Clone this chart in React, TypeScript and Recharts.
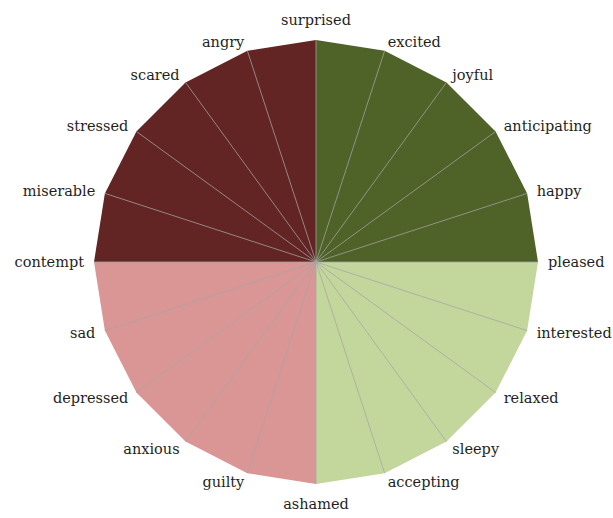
import React from 'react';
import { RadarChart, Radar, PolarGrid, PolarAngleAxis, PolarRadiusAxis } from 'recharts';

const emotions = [
  'surprised', 'excited', 'joyful', 'anticipating', 'happy', 'pleased',
  'interested', 'relaxed', 'sleepy', 'accepting', 'ashamed',
  'guilty', 'anxious', 'depressed', 'sad', 'contempt',
  'miserable', 'stressed', 'scared', 'angry',
];

// every spoke reaches the outer edge
const values = [1, 1, 1, 1, 1, 1, 1, 1, 1, 1, 1, 1, 1, 1, 1, 1, 1, 1, 1, 1];

// quadrant spans by emotion index (start, end inclusive, wrapping)
const quadrants = [
  { key: 'q1', from: 0, to: 5, color: '#4f6228' },
  { key: 'q2', from: 5, to: 10, color: '#c3d69b' },
  { key: 'q3', from: 10, to: 15, color: '#d99694' },
  { key: 'q4', from: 15, to: 20, color: '#632523' },
];

const CX = 316;
const CY = 262;
const R = 222;

const data = emotions.map((name, i) => {
  const row: any = { name };
  quadrants.forEach((q) => {
    const inside = (i >= q.from && i <= q.to) || (q.to >= emotions.length && i === q.to - emotions.length);
    row[q.key] = inside ? values[i] : 0;
  });
  return row;
});

const EmotionTick = (props: any) => {
  const { x, y, payload } = props;
  const dx = x - CX;
  const dy = y - CY;
  const len = Math.sqrt(dx * dx + dy * dy) || 1;
  const nx = dx / len;
  const ny = dy / len;
  let anchor = 'middle';
  let tx = x + nx * 2;
  let ty = y + ny * 1;
  if (nx > 0.1) anchor = 'start';
  else if (nx < -0.1) anchor = 'end';
  else {
    tx = x;
    ty = y + ny * 12;
  }
  return (
    <text x={tx} y={ty} dy="0.35em" textAnchor={anchor} fill="#1f1f1f"
      style={{ fontFamily: '"DejaVu Serif", serif', fontSize: 14.5 }}>
      {payload.value}
    </text>
  );
};

export default function App() {
  return (
    <div style={{ position: 'absolute', left: 0, top: 0, background: '#fff' }}>
      <RadarChart width={613} height={518} data={data} cx={CX} cy={CY} outerRadius={R}
        margin={{ top: 0, right: 0, bottom: 0, left: 0 }}>
        <PolarRadiusAxis domain={[0, 1]} tick={false} axisLine={false} />
        <PolarAngleAxis dataKey="name" tick={<EmotionTick />} tickLine={false} axisLine={false} />
        {quadrants.map((q) => (
          <Radar key={q.key} dataKey={q.key} fill={q.color} fillOpacity={1} stroke="none"
            isAnimationActive={false} dot={false} />
        ))}
        <PolarGrid gridType="polygon" polarRadius={[0.1]} stroke="#a6a6a6" strokeWidth={0.75} zIndex={600} />
      </RadarChart>
    </div>
  );
}
